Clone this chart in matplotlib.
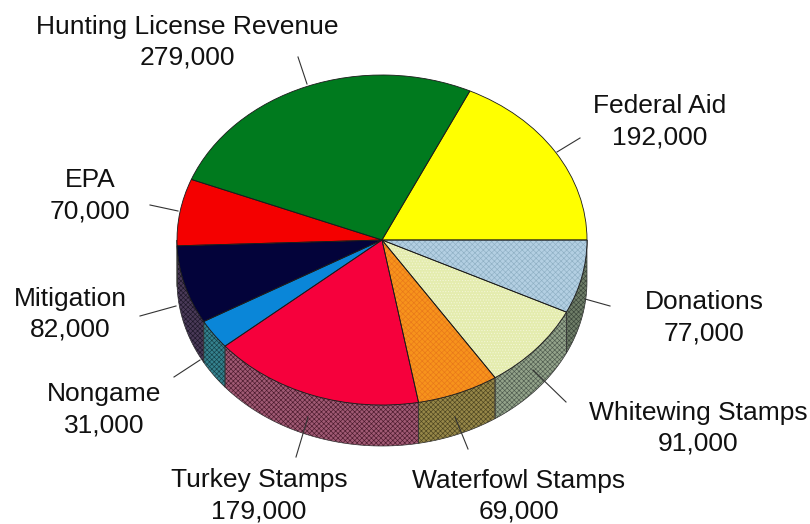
import numpy as np
import matplotlib
matplotlib.use('Agg')
import matplotlib.pyplot as plt

plt.rcParams['font.family'] = ['Liberation Sans', 'DejaVu Sans']
plt.rcParams['hatch.linewidth'] = 0.45

# clockwise from 3 o'clock
names = ['Donations', 'Whitewing Stamps', 'Waterfowl Stamps', 'Turkey Stamps', 'Nongame',
         'Mitigation', 'EPA', 'Hunting License Revenue', 'Federal Aid']
revenue = [77000, 91000, 69000, 179000, 31000, 82000, 70000, 279000, 192000]

top_colors = ['#b3cfe2', '#e4ecae', '#f7931c', '#f6003c', '#0a86d8',
              '#03033a', '#f40000', '#007a1e', '#ffff00']
top_hatch = ['xxxxxx', '......', 'xxxxxx', '', '', '', '', '', '']
top_hatch_colors = ['#8fb0c4', '#f4f6d8', '#e8781a', '#f6003c', '#0a86d8',
                    '#03033a', '#f40000', '#007a1e', '#ffff00']
side_colors = ['#6f7e68', '#93a38a', '#968748', '#a05a74', '#35828e',
               '#4a3a58', '#6a2020', '#0a4a20', '#80802a']
side_hatch_colors = ['#3a453a', '#4e5a4e', '#4c4420', '#4a1a2c', '#154048',
                     '#1c1628', '#300000', '#002000', '#404000']

# label centre (x, y of name line) and leader line, in pixels
label_xy = [(704, 302), (698, 413), (519, 481), (259, 480), (104, 394),
            (70, 299), (90, 180), (187, 27), (660, 106)]
leaders = [((610, 306), (585, 299)), ((566, 402), (533, 370)), ((468, 449), (455, 417)),
           ((296, 457), (308, 417)), ((174, 377), (200, 360)), ((140, 316), (176, 306)),
           ((150, 205), (178, 211)), ((298, 57), (307, 84)), ((557, 152), (580, 138))]

W, H = 810, 524
cx, cy, rx, ry = 382, 240, 205, 165
depth = 41 / ry

fig = plt.figure(figsize=(W / 100, H / 100), dpi=100)
ax = fig.add_axes([0, 0, 1, 1])

# side wall, only the part below the horizontal centre line shows
edges = np.cumsum([0] + revenue) / sum(revenue) * 2 * np.pi
for i in range(len(revenue)):
    a0, a1 = edges[i], min(edges[i + 1], np.pi)
    if a0 >= np.pi:
        break
    t = np.linspace(a0, a1, 60)
    xs = np.r_[np.cos(t), np.cos(t[::-1])]
    ys = np.r_[-np.sin(t), -np.sin(t[::-1]) - depth]
    ax.fill(xs, ys, facecolor=side_colors[i], edgecolor=side_hatch_colors[i],
            hatch='xxxxxxx', linewidth=0, zorder=1)
    ax.fill(xs, ys, facecolor='none', edgecolor='#333333', linewidth=0.5, zorder=1.5)

# top face: textured fill first, then the black outlines
wedges, _ = ax.pie(revenue, startangle=0, counterclock=False, colors=top_colors,
                   wedgeprops={'linewidth': 0})
for w, h, c in zip(wedges, top_hatch, top_hatch_colors):
    w.set_edgecolor(c)
    w.set_hatch(h)
    w.set_zorder(2)
outline, _ = ax.pie(revenue, startangle=0, counterclock=False,
                    wedgeprops={'facecolor': 'none', 'edgecolor': '#1a1a1a', 'linewidth': 0.6})
for w in outline:
    w.set_zorder(3)

# stretch the unit pie into an ellipse
ax.set_aspect('auto')
ax.set_xlim(-cx / rx, (W - cx) / rx)
ax.set_ylim(-(H - cy) / ry, cy / ry)
ax.axis('off')

# pixel overlay for labels and leader lines
ov = fig.add_axes([0, 0, 1, 1])
ov.set_xlim(0, W)
ov.set_ylim(H, 0)
ov.axis('off')
ov.patch.set_alpha(0)

for (p0, p1) in leaders:
    ov.plot([p0[0], p1[0]], [p0[1], p1[1]], color='#333333', lw=0.8)
for name, val, (x, y) in zip(names, revenue, label_xy):
    ov.text(x, y, name, ha='center', va='center', fontsize=19, color='#111111')
    ov.text(x, y + 31, f'{val:,}', ha='center', va='center', fontsize=19, color='#111111')

fig.savefig('out.png', dpi=100)
